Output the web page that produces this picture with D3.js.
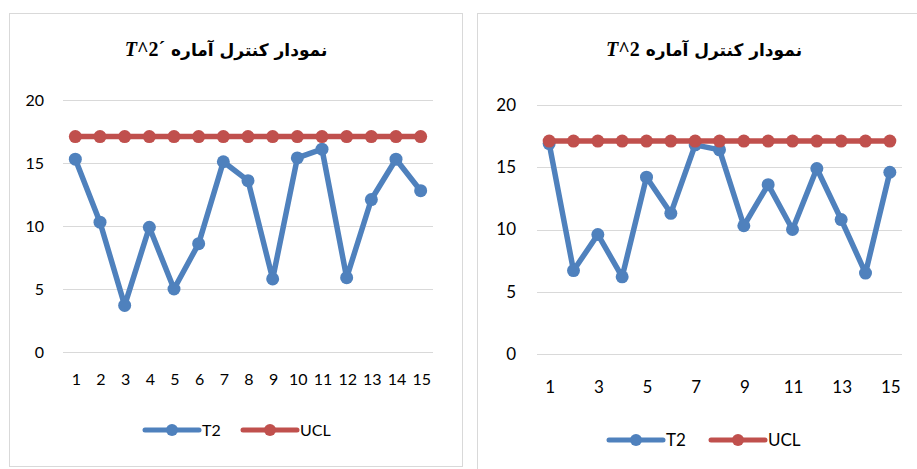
<!DOCTYPE html>
<html lang="fa">
<head>
    <meta charset="UTF-8">
    <title>T^2 control charts</title>
    <script src="https://d3js.org/d3.v7.min.js"></script>
    <style>
        body { margin: 0; background: #fff; }
        text { font-family: Lato, "Open Sans", sans-serif; fill: #000; }
        .grid line { stroke: #d9d9d9; stroke-width: 1px; }
        .frame { fill: none; stroke: #d9d9d9; stroke-width: 1px; }
        .title { font-family: "DejaVu Sans", sans-serif; font-weight: bold; font-size: 17px; }
        .title .math { font-family: "Liberation Serif", serif; font-size: 20px; }
    </style>
</head>
<body>
    <svg width="917" height="469"></svg>
    <script>
        // samples 1..15
        const samples = ["1","2","3","4","5","6","7","8","9","10","11","12","13","14","15"];
        const yTicks = [0, 5, 10, 15, 20];
        const seriesNames = ["T2", "UCL"];
        const colors = { T2: "#4f81bd", UCL: "#c0504d" };

        // left chart: T^2' values
        const t2Prime = [15.3, 10.3, 3.7, 9.9, 5.0, 8.6, 15.1, 13.6, 5.8, 15.4, 16.1, 5.9, 12.1, 15.3, 12.8];
        const uclPrime = [17.1, 17.1, 17.1, 17.1, 17.1, 17.1, 17.1, 17.1, 17.1, 17.1, 17.1, 17.1, 17.1, 17.1, 17.1];

        // right chart: T^2 values
        const t2 = [16.9, 6.7, 9.6, 6.2, 14.2, 11.3, 16.8, 16.4, 10.3, 13.6, 10.0, 14.9, 10.8, 6.5, 14.6];
        const ucl = [17.1, 17.1, 17.1, 17.1, 17.1, 17.1, 17.1, 17.1, 17.1, 17.1, 17.1, 17.1, 17.1, 17.1, 17.1];

        const svg = d3.select("svg");

        function drawChart(opt) {
            const g = svg.append("g");

            g.append("rect").attr("class", "frame")
                .attr("x", opt.frame[0] + 0.5).attr("y", opt.frame[1] + 0.5)
                .attr("width", opt.frame[2]).attr("height", opt.frame[3]);

            const x = d3.scaleBand().domain(samples).range([opt.left, opt.right]);
            const y = d3.scaleLinear().domain([0, 20]).range([opt.bottom, opt.top]);
            const cx = d => x(d) + x.bandwidth() / 2;

            // gridlines
            g.append("g").attr("class", "grid").selectAll("line")
                .data(yTicks).enter().append("line")
                .attr("x1", opt.left).attr("x2", opt.right)
                .attr("y1", d => Math.round(y(d)) + 0.5).attr("y2", d => Math.round(y(d)) + 0.5);

            // y labels
            g.append("g").selectAll("text")
                .data(yTicks).enter().append("text")
                .attr("x", opt.left - opt.yLabelGap).attr("y", d => y(d))
                .attr("dy", "0.35em").attr("text-anchor", "end")
                .style("font-size", opt.fontSize + "px")
                .text(d => d);

            // x labels
            g.append("g").selectAll("text")
                .data(samples.filter((d, i) => i % opt.xStep === 0)).enter().append("text")
                .attr("x", d => cx(d) + 1).attr("y", opt.xLabelY)
                .attr("dy", "0.35em").attr("text-anchor", "middle")
                .style("font-size", opt.fontSize + "px")
                .text(d => d);

            const line = d3.line().x((d, i) => cx(samples[i])).y(d => y(d));
            const series = [
                { name: "T2", values: opt.t2 },
                { name: "UCL", values: opt.ucl }
            ];

            series.forEach(s => {
                g.append("path").datum(s.values)
                    .attr("d", line)
                    .attr("fill", "none")
                    .attr("stroke", colors[s.name])
                    .attr("stroke-width", 5.5)
                    .attr("stroke-linejoin", "round");
                g.append("g").selectAll("circle")
                    .data(s.values).enter().append("circle")
                    .attr("cx", (d, i) => cx(samples[i]))
                    .attr("cy", d => y(d))
                    .attr("r", 6.5)
                    .attr("fill", colors[s.name]);
            });

            // title (rtl); LRM keeps the prime mark next to the 2
            const title = g.append("text").attr("class", "title")
                .attr("x", opt.titleX).attr("y", opt.titleY)
                .attr("text-anchor", "middle").attr("direction", "rtl")
                .attr("dy", "0.35em");
            title.append("tspan").text("نمودار کنترل آماره ");
            title.append("tspan").attr("class", "math").style("font-style", "italic").text("T");
            title.append("tspan").attr("class", "math").text("^2" + opt.mark + "\u200E");

            // legend
            const lg = g.append("g").attr("transform", `translate(${opt.legendX},${opt.legendY})`);
            seriesNames.forEach((name, i) => {
                const item = lg.append("g").attr("transform", `translate(${i * opt.legendStep},0)`);
                item.append("line").attr("x1", 0).attr("x2", 54)
                    .attr("stroke", colors[name]).attr("stroke-width", 5).attr("stroke-linecap", "round");
                item.append("circle").attr("cx", 27).attr("r", 6).attr("fill", colors[name]);
                item.append("text").attr("x", 57).attr("dy", "0.35em")
                    .style("font-size", opt.fontSize + "px").text(name);
            });
        }

        drawChart({
            frame: [9, 13, 453, 453],
            left: 63, right: 433, top: 100, bottom: 352,
            yLabelGap: 19, xLabelY: 379, xStep: 1, fontSize: 16,
            titleX: 226, titleY: 50, mark: "´",
            legendX: 145, legendY: 430, legendStep: 98,
            t2: t2Prime, ucl: uclPrime
        });

        drawChart({
            frame: [477, 13, 460, 470],
            left: 537, right: 902, top: 105, bottom: 354,
            yLabelGap: 21, xLabelY: 387, xStep: 2, fontSize: 17,
            titleX: 704, titleY: 50, mark: "",
            legendX: 609, legendY: 440, legendStep: 102,
            t2: t2, ucl: ucl
        });
    </script>
</body>
</html>
